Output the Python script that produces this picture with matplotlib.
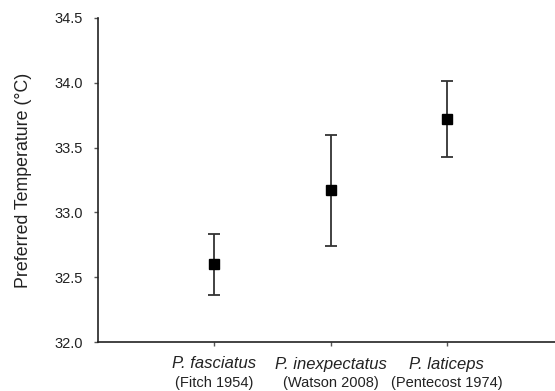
import matplotlib.pyplot as plt
from matplotlib import transforms

# data
species = ["P. fasciatus", "P. inexpectatus", "P. laticeps"]
sources = ["(Fitch 1954)", "(Watson 2008)", "(Pentecost 1974)"]
pref_temp = [32.60, 33.17, 33.72]
err = [0.235, 0.43, 0.29]
y_ticks = [32.0, 32.5, 33.0, 33.5, 34.0, 34.5]

plt.rcParams['font.family'] = ['Liberation Sans', 'DejaVu Sans']

fig = plt.figure(figsize=(5.55, 3.91), dpi=100)
ax = fig.add_axes([0.1766, 0.1253, 0.8234, 0.8287])

x = list(range(1, len(species) + 1))
ax.errorbar(x, pref_temp, yerr=err, fmt='s', color='black', ecolor='#333333',
            elinewidth=1.3, capsize=4, capthick=1.3, markersize=7.5)

ax.set_xlim(0, 3.93)
ax.set_ylim(32.0, 34.5)
ax.set_yticks(y_ticks)
ax.set_yticklabels(["%.1f" % v for v in y_ticks], fontsize=10.5, color='#222222')
ax.set_xticks(x)
ax.set_xticklabels([])
ax.set_ylabel("Preferred Temperature (°C)", fontsize=12.8, color='#222222')
ax.yaxis.label.set_va('center')
ax.yaxis.set_label_coords(-0.162, 0.5)

for s in ['top', 'right']:
    ax.spines[s].set_visible(False)
for s in ['left', 'bottom']:
    ax.spines[s].set_linewidth(1.2)
    ax.spines[s].set_color('#222222')
ax.tick_params(direction='out', length=3, width=1, colors='#555555')
ax.tick_params(axis='y', labelcolor='#222222', pad=8)

# two-line tick labels: italic species name, regular citation below
trans = transforms.blended_transform_factory(ax.transData, fig.transFigure)
for xi, sp, src in zip(x, species, sources):
    ax.text(xi, 1 - 364 / 391, sp, transform=trans, ha='center', va='center',
            fontsize=12, style='italic', color='#222222')
    ax.text(xi, 1 - 383 / 391, src, transform=trans, ha='center', va='center',
            fontsize=10.5, color='#222222')

fig.savefig("out.png", dpi=100)
